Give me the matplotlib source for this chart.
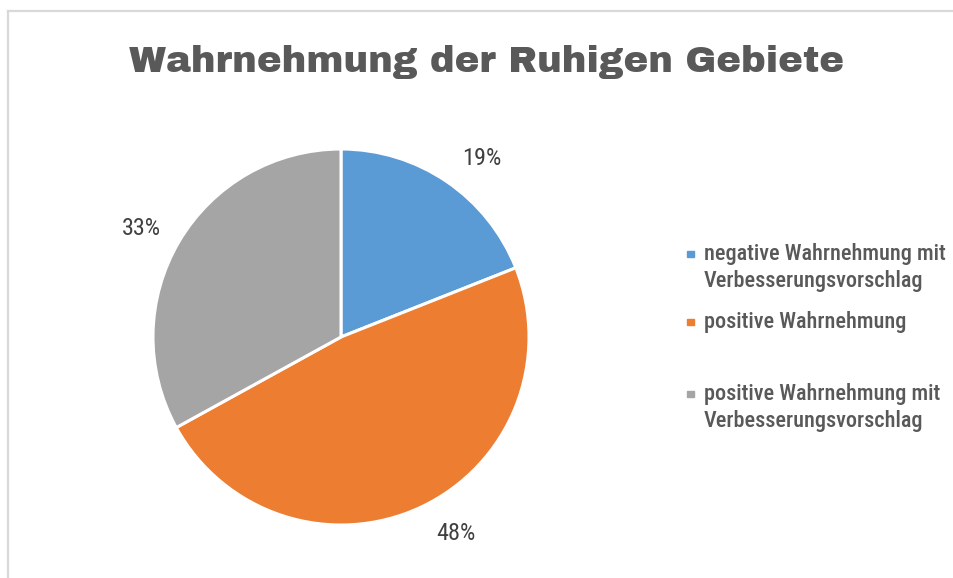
import matplotlib
matplotlib.use("Agg")
import matplotlib.pyplot as plt
from matplotlib.lines import Line2D
from matplotlib.patches import Rectangle

categories = ["negative Wahrnehmung mit\nVerbesserungsvorschlag",
              "positive Wahrnehmung",
              "positive Wahrnehmung mit\nVerbesserungsvorschlag"]
values = [19, 48, 33]
colors = ["#5B9BD5", "#ED7D31", "#A5A5A5"]
title = "Wahrnehmung der Ruhigen Gebiete"

W, H = 954, 578
fig = plt.figure(figsize=(W / 100, H / 100), dpi=100)
fig.patch.set_facecolor("white")

# border
fig.add_artist(Line2D([8 / W, 1], [1 - 10.5 / H] * 2, color="#d9d9d9", lw=1.6))
fig.add_artist(Line2D([8 / W] * 2, [0, 1 - 10.5 / H], color="#d9d9d9", lw=1.6))

cx, cy, r = 341, 337, 188
ax = fig.add_axes([(cx - r) / W, (H - cy - r) / H, 2 * r / W, 2 * r / H])
wedges, texts, autotexts = ax.pie(
    values, colors=colors, startangle=90, counterclock=False,
    autopct=lambda p: f"{p:.0f}%", pctdistance=1.21,
    wedgeprops=dict(edgecolor="white", linewidth=2.2),
    textprops=dict(color="#404040", fontsize=17.5, family="Roboto Condensed"))
# label placement like the original (outside end)
label_pos = [(0.75, 0.95), (0.61, -1.045), (-1.06, 0.575)]
for t, p in zip(autotexts, label_pos):
    t.set_position(p)
ax.set_xlim(-1, 1)
ax.set_ylim(-1, 1)
ax.axis("off")

fig.text(487 / W, 1 - 72 / H, title, ha="center", va="baseline",
         fontsize=26.7, color="#595959", family="Archivo Black")

# legend
baselines = [[260, 287], [328], [400, 427]]
for bl, lab, c in zip(baselines, categories, colors):
    fig.add_artist(Rectangle((687 / W, 1 - (bl[0] - 3) / H), 7 / W, 6 / H,
                             color=c, transform=fig.transFigure))
    for yy, line in zip(bl, lab.split("\n")):
        fig.text(704 / W, 1 - yy / H, line, ha="left", va="baseline",
                 fontsize=16, fontweight=500, color="#595959",
                 family="Roboto Condensed")

fig.savefig("out.png", dpi=100, facecolor="white")
